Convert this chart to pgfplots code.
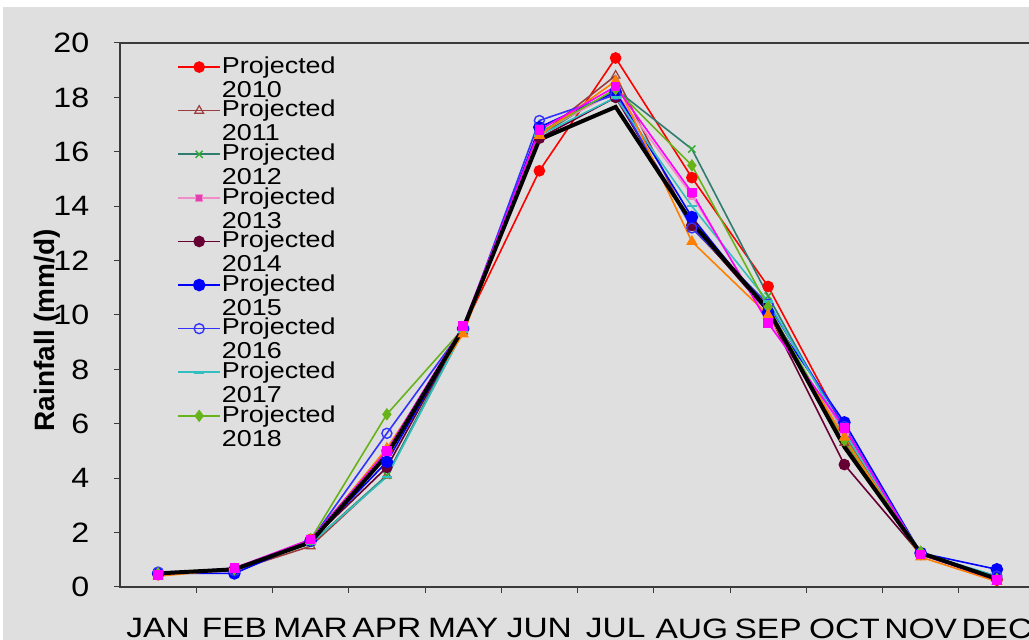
\documentclass[border=0pt]{standalone}
\usepackage{graphicx}
\usepackage{pgfplots}
\pgfplotsset{compat=1.18}
\usepackage{fontspec}
\setmainfont{Liberation Sans}
\definecolor{bg}{HTML}{DFDFDF}
\definecolor{axisgray}{HTML}{3A3A3A}
\definecolor{c2010}{HTML}{FF0000}
\definecolor{c2011}{HTML}{9C3D3D}
\definecolor{c2012}{HTML}{2E7D6E}
\definecolor{c2012m}{HTML}{33AA33}
\definecolor{c2013}{HTML}{F28CC8}
\definecolor{c2013m}{HTML}{E040B0}
\definecolor{c2014}{HTML}{660033}
\definecolor{c2015}{HTML}{0000FF}
\definecolor{c2016}{HTML}{3333FF}
\definecolor{c2017}{HTML}{33BFBF}
\definecolor{c2018}{HTML}{66B31A}
\definecolor{corange}{HTML}{FF8000}
\definecolor{cmagenta}{HTML}{FF00FF}
\newcommand\lgentry[1]{\smash{\scalebox{1.17}[1]{\fontsize{23}{24}\selectfont\begin{tabular}[t]{@{}l@{}}Projected\\#1\end{tabular}}}}
\begin{document}
\begin{tikzpicture}[x=1pt,y=1pt]
\fill[white] (0,0) rectangle (1029,640);
\fill[bg] (3,0) rectangle (1029,633);
\path[use as bounding box] (0,0) rectangle (1029,640);
\begin{axis}[
  at={(120pt,53pt)}, anchor=south west,
  scale only axis, width=915pt, height=544pt,
  xmin=0.5, xmax=12.5, ymin=0, ymax=20,
  ytick={0,2,...,20},
  xtick={1.5,2.5,...,11.5}, xticklabel={\relax},
  extra x ticks={1,2,3,4,5,6,7,8,9,10,11,12},
  extra x tick labels={JAN,FEB,MAR,APR,MAY,JUN,JUL,AUG,SEP,OCT,NOV,DEC},
  extra x tick style={major tick length=0pt, xticklabel style={yshift=-28pt, xscale=1.04}},
  yticklabel style={xshift=-18pt},
  tick pos=left, tick align=outside,
  major tick length=6pt,
  tick style={axisgray, line width=1pt},
  axis line style={axisgray, line width=1.6pt},
  /pgf/number format/assume math mode=true,
  tick label style={font=\fontsize{28}{30}\selectfont, xscale=1.15},
  ylabel={Rainfall (mm/d)},
  ylabel style={font=\bfseries\fontsize{28}{30}\selectfont, at={(axis description cs:-0.079,0.472)}, anchor=center},
  legend cell align=left,
  legend image code/.code={\path[draw=none,fill=none] (0pt,-10pt) rectangle (42pt,14pt);\draw[mark repeat=2,mark phase=2] plot coordinates {(0pt,7pt) (21pt,7pt) (42pt,7pt)};},
  legend style={draw=none, fill=none, at={(axis description cs:0.0625,0.969)}, anchor=north west,
    row sep=19.6pt, inner sep=0pt, nodes={inner sep=1pt}},
  every axis plot/.append style={line width=1.6pt},
]
\addplot[c2010, mark=*, mark size=5pt] coordinates {(1,0.45) (2,0.65) (3,1.75) (4,5.0) (5,9.5) (6,15.3) (7,19.45) (8,15.05) (9,11.05) (10,5.8) (11,1.25) (12,0.25)};
\addlegendentry{\lgentry{2010}}
\addplot[c2011, mark=triangle, mark size=5pt, mark options={line width=1.2pt}] coordinates {(1,0.5) (2,0.6) (3,1.5) (4,4.1) (5,9.4) (6,16.6) (7,18.8) (8,13.2) (9,10.3) (10,5.3) (11,1.2) (12,0.3)};
\addlegendentry{\lgentry{2011}}
\addplot[c2012, mark=x, mark size=5pt, mark options={c2012m, line width=1.4pt}] coordinates {(1,0.5) (2,0.65) (3,1.6) (4,4.1) (5,9.5) (6,16.6) (7,18.3) (8,16.1) (9,10.7) (10,5.6) (11,1.2) (12,0.35)};
\addlegendentry{\lgentry{2012}}
\addplot[c2013, mark=square*, mark size=3.5pt, mark options={fill=c2013m, draw=c2013}] coordinates {(1,0.5) (2,0.65) (3,1.65) (4,4.9) (5,9.5) (6,16.7) (7,18.2) (8,14.4) (9,9.8) (10,5.7) (11,1.2) (12,0.3)};
\addlegendentry{\lgentry{2013}}
\addplot[c2014, mark=*, mark size=5pt] coordinates {(1,0.5) (2,0.65) (3,1.7) (4,4.4) (5,9.5) (6,16.5) (7,18.0) (8,13.3) (9,10.1) (10,4.5) (11,1.2) (12,0.3)};
\addlegendentry{\lgentry{2014}}
\addplot[c2015, mark=*, mark size=5.5pt] coordinates {(1,0.5) (2,0.5) (3,1.7) (4,4.6) (5,9.5) (6,16.9) (7,18.2) (8,13.6) (9,10.1) (10,6.05) (11,1.25) (12,0.65)};
\addlegendentry{\lgentry{2015}}
\addplot[c2016, mark=o, mark size=5pt, mark options={fill=white, line width=1.4pt}] coordinates {(1,0.55) (2,0.6) (3,1.7) (4,5.65) (5,9.5) (6,17.15) (7,18.1) (8,13.2) (9,10.4) (10,5.9) (11,1.2) (12,0.4)};
\addlegendentry{\lgentry{2016}}
\addplot[c2017, mark=-, mark size=5pt, mark options={line width=2.5pt}] coordinates {(1,0.5) (2,0.65) (3,1.6) (4,4.05) (5,9.4) (6,16.6) (7,18.0) (8,14.0) (9,10.5) (10,5.7) (11,1.25) (12,0.4)};
\addlegendentry{\lgentry{2017}}
\addplot[c2018, mark=diamond*, mark size=5pt] coordinates {(1,0.5) (2,0.65) (3,1.75) (4,6.35) (5,9.5) (6,16.7) (7,18.3) (8,15.5) (9,10.3) (10,5.4) (11,1.3) (12,0.3)};
\addlegendentry{\lgentry{2018}}
\addplot[corange, mark=triangle*, mark size=5pt, forget plot] coordinates {(1,0.4) (2,0.65) (3,1.7) (4,5.1) (5,9.3) (6,16.6) (7,18.6) (8,12.7) (9,10.0) (10,5.5) (11,1.1) (12,0.2)};
\addplot[cmagenta, mark=square*, mark size=4pt, forget plot] coordinates {(1,0.45) (2,0.7) (3,1.75) (4,5.0) (5,9.6) (6,16.8) (7,18.4) (8,14.5) (9,9.7) (10,5.85) (11,1.2) (12,0.25)};
\addplot[black, line width=4pt, forget plot] coordinates {(1,0.5) (2,0.65) (3,1.65) (4,4.85) (5,9.5) (6,16.45) (7,17.65) (8,13.4) (9,10.2) (10,5.15) (11,1.25) (12,0.3)};
\end{axis}
\end{tikzpicture}
\end{document}
